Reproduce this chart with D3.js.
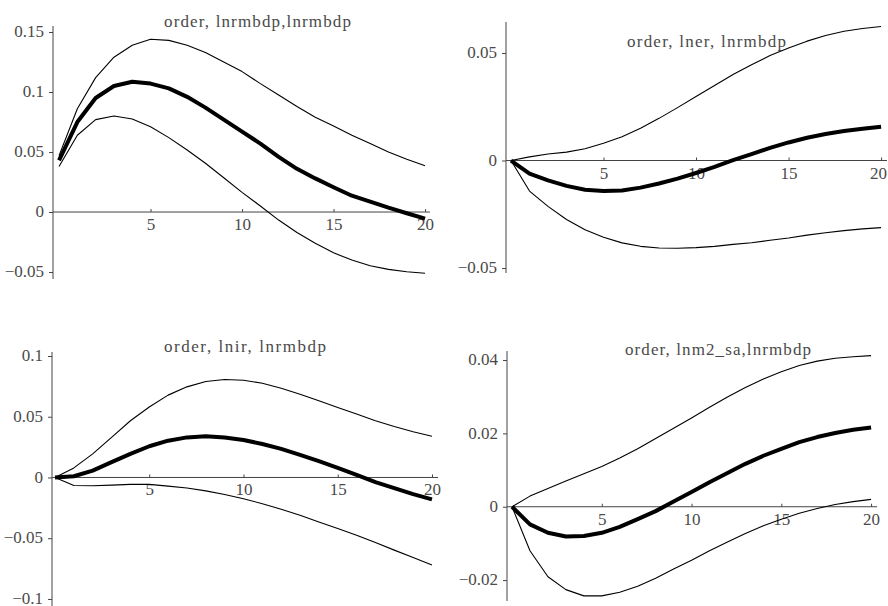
<!DOCTYPE html>
<html>
<head>
<meta charset="utf-8">
<script src="https://cdn.jsdelivr.net/npm/d3@7"></script>
<style>
  html, body { margin: 0; padding: 0; background: #fff; }
  svg { display: block; }
</style>
</head>
<body>
<svg id="chart" width="888" height="606"></svg>
<script>
// ---------- data ----------
const steps = d3.range(0, 21);

const titles = [
  "order, lnrmbdp,lnrmbdp",
  "order, lner, lnrmbdp",
  "order, lnir, lnrmbdp",
  "order, lnm2_sa,lnrmbdp"
];

// panel 1: order, lnrmbdp,lnrmbdp
const irf1   = [0.043,0.075,0.095,0.105,0.1085,0.107,0.103,0.096,0.087,0.077,0.067,0.057,0.046,0.036,0.028,0.0206,0.0136,0.0086,0.0036,-0.001,-0.0055];
const upper1 = [0.047,0.086,0.112,0.129,0.139,0.144,0.143,0.139,0.133,0.125,0.117,0.107,0.0975,0.088,0.079,0.0717,0.064,0.057,0.050,0.044,0.0386];
const lower1 = [0.038,0.064,0.077,0.080,0.0775,0.071,0.062,0.0517,0.0406,0.0286,0.0164,0.005,-0.0067,-0.017,-0.026,-0.034,-0.040,-0.0447,-0.0478,-0.0497,-0.051];

// panel 2: order, lner, lnrmbdp
const irf2   = [0,-0.0061,-0.0092,-0.0118,-0.0136,-0.0142,-0.0139,-0.0126,-0.0107,-0.0084,-0.0058,-0.003,0.0002,0.003,0.0059,0.0084,0.0106,0.0123,0.0137,0.0148,0.0157];
const upper2 = [0,0.0017,0.003,0.0039,0.0055,0.008,0.011,0.015,0.0196,0.0246,0.0298,0.0349,0.040,0.0445,0.0488,0.0523,0.0555,0.0581,0.0601,0.0614,0.0623];
const lower2 = [0,-0.0142,-0.0213,-0.0274,-0.0322,-0.0357,-0.0383,-0.0399,-0.0407,-0.0408,-0.0405,-0.0399,-0.039,-0.0382,-0.0371,-0.036,-0.0347,-0.0336,-0.0326,-0.0318,-0.0312];

// panel 3: order, lnir, lnrmbdp
const irf3   = [0,0.001,0.0057,0.0126,0.0194,0.0257,0.0303,0.033,0.0339,0.033,0.0309,0.0276,0.0235,0.0186,0.0134,0.0079,0.0022,-0.0038,-0.0087,-0.0137,-0.018];
const upper3 = [0,0.0079,0.0194,0.033,0.0467,0.058,0.0678,0.0746,0.079,0.0806,0.080,0.0776,0.0735,0.0686,0.0631,0.0576,0.0522,0.0467,0.042,0.0377,0.0339];
const lower3 = [0,-0.0066,-0.0068,-0.0063,-0.0057,-0.0057,-0.0071,-0.0087,-0.011,-0.014,-0.0175,-0.0216,-0.0262,-0.0311,-0.0366,-0.042,-0.0475,-0.0536,-0.0598,-0.0658,-0.0721];

// panel 4: order, lnm2_sa,lnrmbdp
const irf4   = [0,-0.0048,-0.0071,-0.0081,-0.008,-0.0071,-0.0055,-0.0034,-0.0012,0.0014,0.004,0.0067,0.0092,0.0117,0.0139,0.0158,0.0176,0.019,0.0201,0.021,0.0216];
const upper4 = [0,0.0029,0.005,0.007,0.009,0.011,0.0133,0.0158,0.0186,0.0214,0.0242,0.0271,0.0299,0.0325,0.0348,0.0368,0.0385,0.0397,0.0405,0.0409,0.0412];
const lower4 = [0,-0.012,-0.0191,-0.0226,-0.0243,-0.0243,-0.0233,-0.0217,-0.0195,-0.017,-0.0146,-0.012,-0.0096,-0.0073,-0.0052,-0.0034,-0.0018,-0.0005,0.0006,0.0014,0.002];

const xTicks = [5, 10, 15, 20];
const xTickLabels = ["5", "10", "15", "20"];

const yTicks1 = [-0.05, 0, 0.05, 0.1, 0.15];
const yTickLabels1 = ["\u22120.05", "0", "0.05", "0.1", "0.15"];
const yTicks2 = [-0.05, 0, 0.05];
const yTickLabels2 = ["\u22120.05", "0", "0.05"];
const yTicks3 = [-0.1, -0.05, 0, 0.05, 0.1];
const yTickLabels3 = ["\u22120.1", "\u22120.05", "0", "0.05", "0.1"];
const yTicks4 = [-0.02, 0, 0.02, 0.04];
const yTickLabels4 = ["\u22120.02", "0", "0.02", "0.04"];

// ---------- layout ----------
const FONT = '"Liberation Serif"';
const TEXT_COLOR = "#4a4a4a";
const AXIS_COLOR = "#444";

const panels = [
  { title: titles[0], irf: irf1, upper: upper1, lower: lower1, yTicks: yTicks1, yLabels: yTickLabels1,
    xDomain: [-0.33, 20.27], xRange: [53, 430], yDomain: [-0.0558, 0.155], yRange: [279, 26],
    titleX: 164, titleY: 27, titleLen: 187 },
  { title: titles[1], irf: irf2, upper: upper2, lower: lower2, yTicks: yTicks2, yLabels: yTickLabels2,
    xDomain: [-0.27, 20.32], xRange: [506, 887], yDomain: [-0.0523, 0.0644], yRange: [273, 22],
    titleX: 627, titleY: 47, titleLen: 159 },
  { title: titles[2], irf: irf3, upper: upper3, lower: lower3, yTicks: yTicks3, yLabels: yTickLabels3,
    xDomain: [-0.16, 20.32], xRange: [52, 438], yDomain: [-0.1058, 0.1033], yRange: [606, 352],
    titleX: 164, titleY: 352, titleLen: 162 },
  { title: titles[3], irf: irf4, upper: upper4, lower: lower4, yTicks: yTicks4, yLabels: yTickLabels4,
    xDomain: [-0.28, 20.33], xRange: [507, 877], yDomain: [-0.0257, 0.04246], yRange: [601, 351],
    titleX: 625, titleY: 355, titleLen: 186 }
];

const svg = d3.select("#chart");

panels.forEach(p => {
  const x = d3.scaleLinear().domain(p.xDomain).range(p.xRange);
  const y = d3.scaleLinear().domain(p.yDomain).range(p.yRange);
  const g = svg.append("g");

  // y axis
  const yAxis = d3.axisLeft(y).tickValues(p.yTicks).tickSize(4).tickPadding(5)
    .tickFormat((d, i) => p.yLabels[i]);
  const gy = g.append("g").attr("transform", `translate(${x(p.xDomain[0])},0)`).call(yAxis);
  gy.attr("font-family", null).attr("font-size", null);
  gy.select(".domain").attr("d", `M0,${p.yRange[0]}V${p.yRange[1]}`);
  gy.selectAll("path, line").attr("stroke", AXIS_COLOR);
  gy.selectAll("text")
    .style("font-family", FONT).style("font-size", "17px").style("fill", TEXT_COLOR)
    .attr("dy", "0.28em");

  // x axis at y = 0
  const xAxis = d3.axisTop(x).tickValues(xTicks).tickSize(3).tickFormat((d, i) => xTickLabels[i]);
  const gx = g.append("g").attr("transform", `translate(0,${y(0)})`).call(xAxis);
  gx.attr("font-family", null).attr("font-size", null);
  gx.select(".domain").attr("d", `M${p.xRange[0]},0H${p.xRange[1]}`);
  gx.selectAll("path, line").attr("stroke", AXIS_COLOR);
  gx.selectAll("text")
    .style("font-family", FONT).style("font-size", "17px").style("fill", TEXT_COLOR)
    .attr("y", 18).attr("dy", 0);
  // keep the last label inside the page
  gx.selectAll(".tick").each(function () {
    const t = d3.select(this).select("text");
    const box = t.node().getBBox();
    const m = this.transform.baseVal.consolidate().matrix;
    const right = m.e + box.x + box.width;
    if (right > 887) t.attr("x", 887 - right);
  });

  // title
  g.append("text")
    .attr("x", p.titleX).attr("y", p.titleY)
    .attr("textLength", p.titleLen).attr("lengthAdjust", "spacing")
    .style("font-family", FONT).style("font-size", "17px").style("fill", TEXT_COLOR)
    .text(p.title);

  const line = d3.line().x((d, i) => x(steps[i])).y(d => y(d));
  [[p.upper, 1.1], [p.lower, 1.1], [p.irf, 4]].forEach(([vals, w]) => {
    g.append("path").datum(vals)
      .attr("d", line)
      .attr("fill", "none")
      .attr("stroke", "#000")
      .attr("stroke-width", w)
      .attr("stroke-linejoin", "round");
  });
});
</script>
</body>
</html>
